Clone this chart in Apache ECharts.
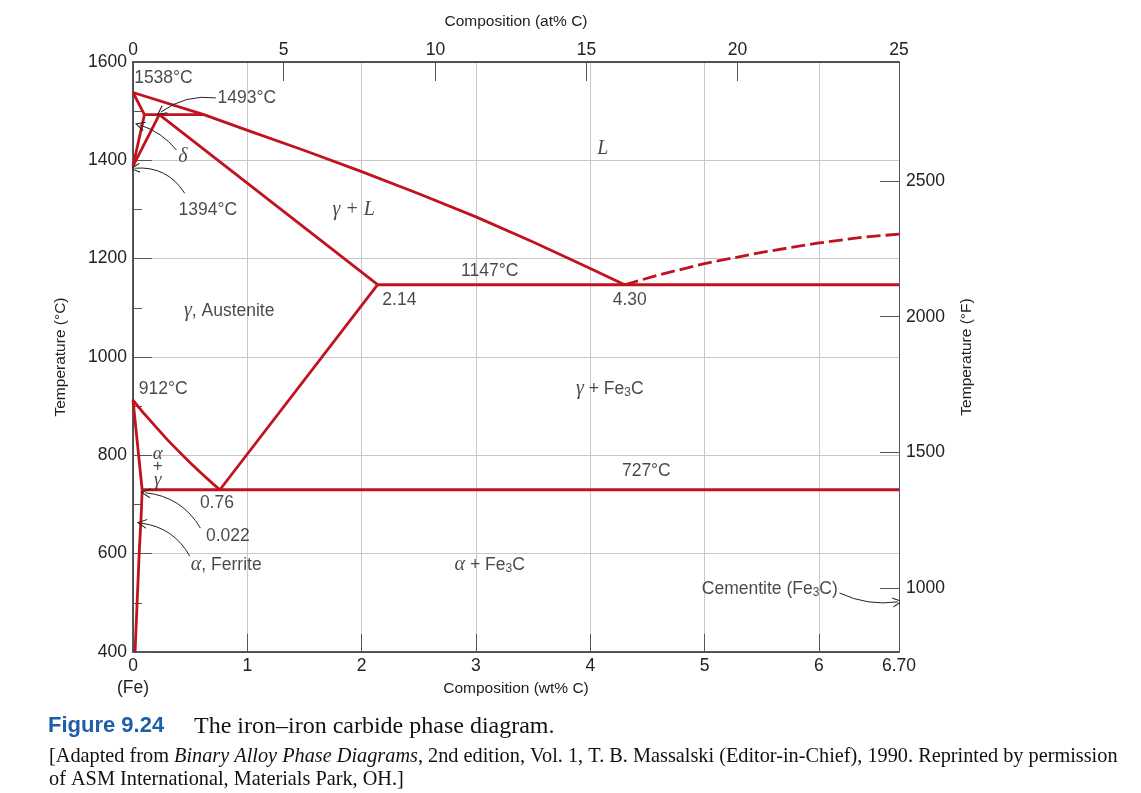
<!DOCTYPE html>
<html><head><meta charset="utf-8">
<script src="https://cdn.jsdelivr.net/npm/echarts@6/dist/echarts.min.js"></script>
<style>html,body{margin:0;padding:0;background:#fff}#c{width:1141px;height:793px}</style>
</head><body><div id="c"></div>
<script>
// ---------- axis data ----------
const wtMin = 0, wtMax = 6.7;
const tMin = 400, tMax = 1600;
const atLabels = ['0', '5', '10', '15', '20', '25'];
const atPositionsWt = [0, 1.318, 2.645, 3.966, 5.287, 6.7];
const fMin = 765, fMax = 2938;
const fTicks = [1000, 1500, 2000, 2500];

// ---------- phase boundaries [wt% C, °C] ----------
const liquidus = [[0, 1538], [0.62, 1493], [0.99, 1462], [1.5, 1420], [2.0, 1377], [2.5, 1332], [3.0, 1285], [3.5, 1234], [4.0, 1180], [4.30, 1147]];
const deltaSolidus = [[0, 1538], [0.10, 1493]];
const peritectic = [[0.10, 1493], [0.62, 1493]];
const deltaSolvus = [[0, 1388], [0.10, 1493]];
const gammaDelta = [[0, 1388], [0.23, 1493]];
const gammaSolidus = [[0.23, 1493], [2.14, 1147]];
const eutectic = [[2.14, 1147], [6.70, 1147]];
const cementiteLiquidus = [[4.30, 1147], [4.6, 1167], [5.0, 1190], [5.5, 1213], [6.0, 1232], [6.4, 1244], [6.70, 1250]];
const acm = [[2.14, 1147], [0.76, 730]];
const a3 = [[0, 912], [0.1, 884], [0.2, 858], [0.3, 832], [0.4, 808], [0.5, 785], [0.6, 763], [0.7, 742], [0.76, 730]];
const eutectoid = [[0.08, 730], [6.70, 730]];
const alphaGamma = [[0, 912], [0.08, 730]];
const alphaSolvus = [[0.08, 730], [0.072, 680], [0.054, 600], [0.036, 500], [0.018, 400]];

// ---------- annotations ----------
const noteTexts = ['{s|1538°C}', '{s|1493°C}', '{i|δ}', '{s|1394°C}', '{i|γ + L}', '{i|L}', '{s|1147°C}',
  '{s|2.14}', '{s|4.30}', '{i|γ}{s|, Austenite}', '{i|γ}{s| + Fe}{sub|3}{s|C}', '{s|912°C}',
  '{ia|α}\n{sa|+}\n{ia|γ}', '{s|0.76}', '{s|0.022}', '{i|α}{s|, Ferrite}', '{i|α}{s| + Fe}{sub|3}{s|C}',
  '{s|727°C}', '{s|Cementite (Fe}{sub|3}{s|C)}'];
const noteWt = [0.01, 0.74, 0.436, 0.655, 1.93, 4.11, 3.12, 2.33, 4.345, 0.445, 4.17, 0.05, 0.217, 0.734, 0.83, 0.506, 3.12, 4.49, 5.57];
const noteT = [1567, 1527, 1407, 1299, 1299, 1423, 1175, 1116, 1116, 1094, 935, 935, 777, 703, 636, 577, 577, 768, 528];
const noteAlign = ['left', 'left', 'center', 'center', 'center', 'center', 'center', 'center', 'center', 'left', 'center', 'left', 'center', 'center', 'center', 'left', 'center', 'center', 'center'];

const leaderFrom = [[0.724, 1527], [0.38, 1421], [0.452, 1333], [0.59, 652], [0.496, 595], [6.18, 520]];
const leaderTo = [[0.243, 1498], [0.059, 1472], [0.015, 1384], [0.108, 724], [0.076, 662], [6.69, 502]];
const leaderCurve = [-0.2, -0.15, -0.3, -0.25, -0.25, -0.15];

// ---------- styles ----------
const RED = '#c1121f';
const SANS = '"Liberation Sans", Arial, sans-serif';
const SERIF = '"Liberation Serif", "Times New Roman", serif';
const TXT = '#1a1a1a';
const RICH = {
  s: { fontFamily: SANS, fontSize: 17.5, color: TXT, lineHeight: 20 },
  i: { fontFamily: SERIF, fontStyle: 'italic', fontSize: 20, color: TXT, lineHeight: 20 },
  sub: { fontFamily: SANS, fontSize: 12, color: TXT, padding: [8, 0, 0, 0], lineHeight: 20 },
  ia: { fontFamily: SERIF, fontStyle: 'italic', fontSize: 19, color: TXT, lineHeight: 13 },
  sa: { fontFamily: SANS, fontSize: 17, color: TXT, lineHeight: 13 }
};

function phase(data, dashed) {
  return {
    type: 'line', data: data, showSymbol: false, silent: true, z: 3,
    lineStyle: { color: RED, width: 2.8, type: dashed ? [14, 5] : 'solid', join: 'round' }
  };
}

const chart = echarts.init(document.getElementById('c'), null, { renderer: 'canvas' });
const nearestAt = v => {
  let best = 0;
  atPositionsWt.forEach((p, i) => { if (Math.abs(p - v) < Math.abs(atPositionsWt[best] - v)) best = i; });
  return atLabels[best];
};
const axisText = { color: '#222', fontSize: 17.5, fontFamily: SANS };
const nameText = { color: '#222', fontSize: 15.5, fontFamily: SANS };

chart.setOption({
  animation: false,
  backgroundColor: '#fff',
  grid: { left: 133, right: 242, top: 62, bottom: 141, containLabel: false },
  xAxis: [
    {
      type: 'value', min: wtMin, max: wtMax, interval: 1, position: 'bottom',
      axisLine: { show: true, onZero: false, lineStyle: { color: '#222', width: 1.5 } },
      axisTick: { show: true, inside: true, length: 18, lineStyle: { color: '#555' } },
      axisLabel: Object.assign({ margin: 3, lineHeight: 22, showMaxLabel: true,
        formatter: v => v === 0 ? '0\n(Fe)' : (Math.abs(v - 6.7) < 1e-6 ? '6.70' : String(v)) }, axisText),
      splitLine: { show: true, lineStyle: { color: '#c8c8c8', width: 1 } },
      name: 'Composition (wt% C)', nameLocation: 'middle', nameGap: 29, nameMoveOverlap: false, nameTextStyle: nameText
    },
    {
      type: 'value', min: wtMin, max: wtMax, position: 'top',
      axisLine: { show: true, onZero: false, lineStyle: { color: '#222', width: 1.5 } },
      axisTick: { show: true, inside: true, length: 19, customValues: atPositionsWt.slice(1, -1), lineStyle: { color: '#555' } },
      axisLabel: Object.assign({ margin: 3, customValues: atPositionsWt, formatter: v => nearestAt(v) }, axisText),
      splitLine: { show: false },
      name: 'Composition (at% C)', nameLocation: 'middle', nameGap: 32, nameMoveOverlap: false, nameTextStyle: nameText
    }
  ],
  yAxis: [
    {
      type: 'value', min: tMin, max: tMax, interval: 200, position: 'left',
      axisLine: { show: true, onZero: false, lineStyle: { color: '#222', width: 1.5 } },
      axisTick: { show: true, inside: true, length: 19, lineStyle: { color: '#555' } },
      minorTick: { show: true, splitNumber: 2, length: 9, lineStyle: { color: '#555' } },
      axisLabel: Object.assign({ margin: 6, formatter: v => String(v) }, axisText),
      splitLine: { show: true, lineStyle: { color: '#c8c8c8', width: 1 } },
      name: 'Temperature (°C)', nameLocation: 'middle', nameGap: 64, nameMoveOverlap: false, nameTextStyle: nameText
    },
    {
      type: 'value', min: fMin, max: fMax, position: 'right',
      axisLine: { show: true, onZero: false, lineStyle: { color: '#555', width: 1 } },
      axisTick: { show: true, inside: true, length: 19, customValues: fTicks, lineStyle: { color: '#555' } },
      axisLabel: Object.assign({ margin: 7, customValues: fTicks, formatter: v => String(v) }, axisText),
      splitLine: { show: false },
      name: 'Temperature (°F)', nameLocation: 'middle', nameGap: 60, nameMoveOverlap: false, nameTextStyle: nameText
    }
  ],
  series: [
    phase(liquidus),
    phase(deltaSolidus), phase(peritectic), phase(deltaSolvus), phase(gammaDelta),
    phase(gammaSolidus), phase(eutectic),
    phase(cementiteLiquidus, true),
    phase(acm), phase(a3), phase(eutectoid), phase(alphaGamma), phase(alphaSolvus),
    {
      type: 'lines', coordinateSystem: 'cartesian2d', silent: true, z: 4,
      symbol: ['none', 'path://M5,0 L10,11 L8.8,11 L5,2.6 L1.2,11 L0,11 Z'], symbolSize: [9, 10],
      lineStyle: { color: '#222', width: 1, opacity: 1 },
      data: leaderFrom.map((f, k) => ({ coords: [f, leaderTo[k]], lineStyle: { curveness: leaderCurve[k] } }))
    },
    {
      type: 'scatter', symbolSize: 0, silent: true, clip: false, z: 5,
      data: noteTexts.map((t, k) => ({
        value: [noteWt[k], noteT[k]],
        label: { show: true, formatter: t, position: [0, 0], align: noteAlign[k], verticalAlign: 'middle', rich: RICH }
      }))
    }
  ],
  graphic: [
    { type: 'text', left: 48, top: 715, style: { text: 'Figure 9.24', font: 'bold 22px "Liberation Sans Narrow", "Arial Narrow", sans-serif', fill: '#1f5fa8' } },
    { type: 'text', left: 194, top: 715, style: { text: 'The iron–iron carbide phase diagram.', font: '24px ' + SERIF, fill: '#111' } },
    { type: 'text', left: 49, top: 747, style: {
        text: '[Adapted from {it|Binary Alloy Phase Diagrams}, 2nd edition, Vol. 1, T. B. Massalski (Editor-in-Chief), 1990. Reprinted by permission',
        font: '20.3px ' + SERIF, fill: '#111',
        rich: { it: { fontFamily: SERIF, fontStyle: 'italic', fontSize: 20.3, color: '#111' } } } },
    { type: 'text', left: 49, top: 770, style: { text: 'of ASM International, Materials Park, OH.]', font: '20.3px ' + SERIF, fill: '#111' } }
  ]
});
</script></body></html>
